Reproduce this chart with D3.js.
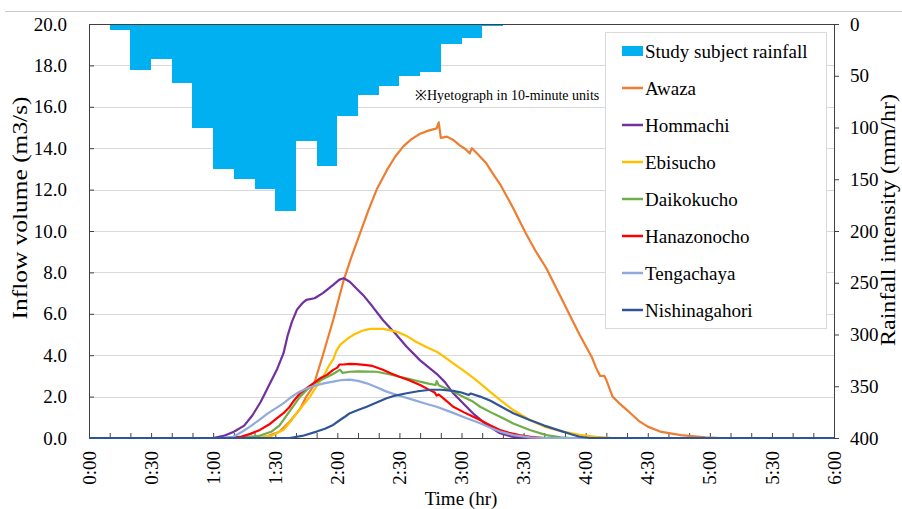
<!DOCTYPE html>
<html>
<head>
<meta charset="utf-8">
<script src="https://cdn.jsdelivr.net/npm/d3@7"></script>
<style>
  body { margin: 0; background: #fff; }
  text { font-family: "Liberation Serif", "Times New Roman", serif; fill: #000; }
</style>
</head>
<body>
<div id="chart"></div>
<script>
// rainfall blocks (start minute of each 10-minute block, intensity mm/hr)
var rainStart = [10, 20, 30, 40, 50, 60, 70, 80, 90, 100, 110, 120, 130, 140, 150, 160, 170, 180, 190];
var rainValue = [6, 44, 34, 57, 100, 140, 150, 159, 181, 113, 137, 89, 69, 60, 50, 46, 19, 14, 2];

// inflow series: [minute, m3/s]
var awaza = [[0,0],[80,0],[85,0.05],[92,0.3],[97,0.8],[102,1.4],[105,2.0],[108.4,2.5],[113,4.0],[118,5.7],[123,7.6],[127,8.8],[131,9.9],[135,11.0],[139,12.0],[144,12.95],[148,13.6],[152,14.1],[156,14.45],[160,14.7],[164,14.85],[168,14.96],[169,15.25],[170,14.5],[173,14.56],[176,14.4],[179,14.15],[182,13.95],[184,13.75],[185,14.0],[188,13.7],[192,13.27],[195,12.8],[199,12.2],[205,11.1],[211,9.9],[216,9.0],[221,8.2],[227,7.0],[232,6.0],[237,5.0],[243,3.9],[245,3.4],[247,3.0],[249,3.0],[250,2.8],[253,2.0],[256,1.7],[260,1.35],[266,0.8],[270,0.55],[276,0.31],[286,0.14],[298,0.03],[305,0],[360,0]];
var hommachi = [[0,0],[60,0],[65,0.1],[70,0.3],[75,0.6],[79,1.1],[83,1.75],[87,2.55],[91,3.35],[94,4.1],[96,4.95],[98,5.6],[100.5,6.2],[103,6.5],[105,6.67],[109,6.75],[113,7.0],[118,7.4],[121,7.65],[123,7.72],[126,7.55],[129,7.25],[132.5,6.9],[137,6.35],[142,5.7],[148,5.05],[153.5,4.41],[160,3.75],[168,3.1],[172,2.7],[176,2.16],[181,1.65],[186,1.15],[192,0.65],[198.6,0.23],[205,0.05],[212,0],[360,0]];
var ebisucho = [[0,0],[70,0],[80,0.03],[88,0.1],[94,0.4],[97,0.75],[100.4,1.2],[104,1.65],[106.8,2.0],[110,2.5],[113.2,2.96],[116,3.5],[118,3.8],[119.5,4.2],[121.3,4.5],[125,4.8],[128,5.0],[132,5.18],[136,5.27],[142,5.27],[146,5.2],[150,5.09],[154,4.9],[158,4.65],[163,4.4],[168,4.17],[172,3.9],[176,3.61],[181,3.25],[186,2.88],[189,2.64],[193,2.3],[198.6,1.84],[205,1.35],[213,0.87],[220,0.55],[229,0.31],[237,0.15],[245,0.06],[252,0.01],[258,0],[360,0]];
var daikokucho = [[0,0],[68,0],[75,0.03],[82,0.1],[88,0.3],[92,0.6],[97,1.3],[102,2.0],[105,2.3],[108.4,2.6],[112,2.8],[116,3.0],[119,3.15],[121.3,3.3],[122.5,3.15],[126,3.2],[130,3.22],[139,3.2],[145,3.08],[150,2.96],[155,2.85],[160,2.72],[164,2.63],[167.5,2.56],[168,2.75],[169,2.55],[172,2.42],[176,2.24],[181,1.98],[185.7,1.75],[189,1.51],[194,1.25],[198.6,1.03],[205,0.7],[213,0.39],[221,0.14],[228,0.03],[233,0],[360,0]];
var hanazonocho = [[0,0],[65,0],[73,0.05],[78,0.2],[82.6,0.39],[87,0.65],[90.7,0.95],[94,1.2],[97,1.51],[99,1.8],[102,2.16],[105,2.4],[108.4,2.64],[112,2.9],[115,3.05],[118,3.29],[120,3.4],[121,3.55],[123,3.55],[126,3.58],[129,3.57],[133,3.53],[137,3.48],[142,3.3],[146,3.12],[150,2.96],[155,2.78],[160,2.56],[164,2.35],[167,2.2],[168,2.05],[169,2.1],[172,1.85],[176,1.51],[181,1.25],[185.7,1.03],[189,0.87],[194,0.6],[198.6,0.39],[203,0.25],[208,0.14],[214,0.05],[220,0],[360,0]];
var tengachaya = [[0,0],[64,0],[69.7,0.06],[74,0.3],[77.8,0.55],[82,0.85],[85.9,1.15],[90,1.42],[93.9,1.67],[97,1.92],[100.4,2.16],[103.5,2.32],[106.8,2.45],[110,2.55],[114,2.65],[118,2.72],[122,2.8],[126,2.82],[130,2.76],[134.2,2.64],[139,2.45],[143.8,2.24],[150,2.04],[156.7,1.84],[162,1.68],[168,1.51],[175,1.25],[182.5,0.95],[189,0.71],[194,0.5],[198.6,0.31],[205,0.14],[213,0.03],[220,0],[360,0]];
var nishinagahori = [[0,0],[97,0],[103,0.1],[110,0.31],[114,0.45],[118,0.63],[121.3,0.87],[124,1.05],[126.1,1.2],[130,1.35],[134.2,1.51],[139,1.72],[143.8,1.92],[148,2.05],[153.5,2.16],[159,2.26],[164.8,2.33],[170,2.33],[176,2.28],[180,2.2],[183.5,2.08],[184.5,2.15],[189,2.0],[194,1.8],[198.6,1.55],[205,1.2],[213,0.87],[220,0.6],[229,0.31],[233,0.18],[237,0.06],[242,0],[360,0]];

var seriesNames = ["Awaza", "Hommachi", "Ebisucho", "Daikokucho", "Hanazonocho", "Tengachaya", "Nishinagahori"];
var seriesData = [awaza, hommachi, ebisucho, daikokucho, hanazonocho, tengachaya, nishinagahori];
var seriesColors = ["#ED7D31", "#7030A0", "#FFC000", "#70AD47", "#FF0000", "#8FAADC", "#2F5597"];

// axis ticks
var timeTicks = [0, 30, 60, 90, 120, 150, 180, 210, 240, 270, 300, 330, 360];
var timeLabels = ["0:00", "0:30", "1:00", "1:30", "2:00", "2:30", "3:00", "3:30", "4:00", "4:30", "5:00", "5:30", "6:00"];
var minorTicks = [0,10,20,30,40,50,60,70,80,90,100,110,120,130,140,150,160,170,180,190,200,210,220,230,240,250,260,270,280,290,300,310,320,330,340,350,360];
var flowTicks = [0, 2, 4, 6, 8, 10, 12, 14, 16, 18, 20];
var rainTicks = [0, 50, 100, 150, 200, 250, 300, 350, 400];

var width = 902, height = 509;
var plotL = 89, plotR = 834, plotT = 24, plotB = 438;

var svg = d3.select("#chart").append("svg")
    .attr("width", width)
    .attr("height", height);

var x = d3.scaleLinear().domain([0, 360]).range([plotL, plotR]);
var y = d3.scaleLinear().domain([0, 20]).range([plotB, plotT]);
var yRain = d3.scaleLinear().domain([0, 400]).range([plotT, plotB]);

// thin border line at top of the figure
svg.append("line")
    .attr("x1", 5).attr("x2", width)
    .attr("y1", 11.5).attr("y2", 11.5)
    .attr("stroke", "#c8c8c8").attr("stroke-width", 1);

// gridlines
svg.append("g").selectAll("line")
    .data(flowTicks.slice(1, -1))
    .join("line")
    .attr("x1", plotL).attr("x2", plotR)
    .attr("y1", function(d) { return Math.round(y(d)) + 0.5; })
    .attr("y2", function(d) { return Math.round(y(d)) + 0.5; })
    .attr("stroke", "#d9d9d9").attr("stroke-width", 1);

// hyetograph bars hanging from the top
svg.append("g").selectAll("rect")
    .data(rainStart)
    .join("rect")
    .attr("x", function(d) { return x(d); })
    .attr("width", function(d) { return x(d + 10) - x(d); })
    .attr("y", yRain(0))
    .attr("height", function(d, i) { return yRain(rainValue[i]) - yRain(0); })
    .attr("fill", "#00B0F0")
    .attr("shape-rendering", "crispEdges");

// left axis
var axL = svg.append("g")
    .attr("transform", "translate(" + plotL + ",0)")
    .call(d3.axisLeft(y).tickValues(flowTicks).tickFormat(d3.format(".1f")).tickSizeInner(-5).tickSizeOuter(0).tickPadding(22));
// right axis
var axR = svg.append("g")
    .attr("transform", "translate(" + plotR + ",0)")
    .call(d3.axisRight(yRain).tickValues(rainTicks).tickSizeInner(5).tickSizeOuter(0).tickPadding(11));
// bottom axis (minor ticks pointing up)
var axB = svg.append("g")
    .attr("transform", "translate(0," + plotB + ")")
    .call(d3.axisBottom(x).tickValues(minorTicks).tickFormat("").tickSizeInner(-5).tickSizeOuter(0));
[axL, axR, axB].forEach(function(a) {
  a.selectAll("path, line").attr("stroke", "#404040");
  a.selectAll("text").style("font-size", "19px").style("font-family", "Liberation Serif").attr("fill", "#000");
});
// top axis line
svg.append("line")
    .attr("x1", plotL).attr("x2", plotR)
    .attr("y1", plotT + 0.5).attr("y2", plotT + 0.5)
    .attr("stroke", "#404040");

// rotated time labels
svg.append("g").selectAll("text")
    .data(timeTicks)
    .join("text")
    .attr("transform", function(d) { return "translate(" + x(d) + ",451) rotate(-90)"; })
    .attr("text-anchor", "end")
    .attr("dy", "0.35em")
    .style("font-size", "19px")
    .text(function(d, i) { return timeLabels[i]; });

// inflow lines
var line = d3.line()
    .x(function(d) { return x(d[0]); })
    .y(function(d) { return y(d[1]); });

svg.append("g").selectAll("path")
    .data(seriesData)
    .join("path")
    .attr("d", line)
    .attr("fill", "none")
    .attr("stroke", function(d, i) { return seriesColors[i]; })
    .attr("stroke-width", 2.2)
    .attr("stroke-linejoin", "round");

// note text
svg.append("text")
    .attr("x", 415).attr("y", 100)
    .style("font-size", "14px")
    .text("※Hyetograph in 10-minute units");

// legend
var lg = svg.append("g");
lg.append("rect")
    .attr("x", 605.5).attr("y", 32.5)
    .attr("width", 221).attr("height", 296)
    .attr("fill", "#fff").attr("stroke", "#d9d9d9");
lg.append("rect")
    .attr("x", 622).attr("y", 46)
    .attr("width", 21).attr("height", 10)
    .attr("fill", "#00B0F0");
lg.append("text")
    .attr("x", 645).attr("y", 51).attr("dy", "0.35em")
    .style("font-size", "19px")
    .text("Study subject rainfall");
var items = lg.selectAll("g.item")
    .data(seriesNames)
    .join("g")
    .attr("class", "item")
    .attr("transform", function(d, i) { return "translate(0," + (88 + i * 37) + ")"; });
items.append("line")
    .attr("x1", 622).attr("x2", 643)
    .attr("stroke", function(d, i) { return seriesColors[i]; })
    .attr("stroke-width", 2.5);
items.append("text")
    .attr("x", 645).attr("dy", "0.35em")
    .style("font-size", "19px")
    .text(function(d) { return d; });

// axis titles (stretched along their length like the original)
svg.append("text")
    .attr("transform", "translate(27,208) rotate(-90)")
    .attr("text-anchor", "middle")
    .attr("textLength", 223)
    .attr("lengthAdjust", "spacingAndGlyphs")
    .style("font-size", "20px")
    .text("Inflow volume (m3/s)");
svg.append("text")
    .attr("transform", "translate(895,220) rotate(-90)")
    .attr("text-anchor", "middle")
    .attr("textLength", 252)
    .attr("lengthAdjust", "spacingAndGlyphs")
    .style("font-size", "20px")
    .text("Rainfall intensity (mm/hr)");
svg.append("text")
    .attr("x", 461).attr("y", 505)
    .attr("text-anchor", "middle")
    .style("font-size", "19px")
    .text("Time (hr)");
</script>
</body>
</html>
